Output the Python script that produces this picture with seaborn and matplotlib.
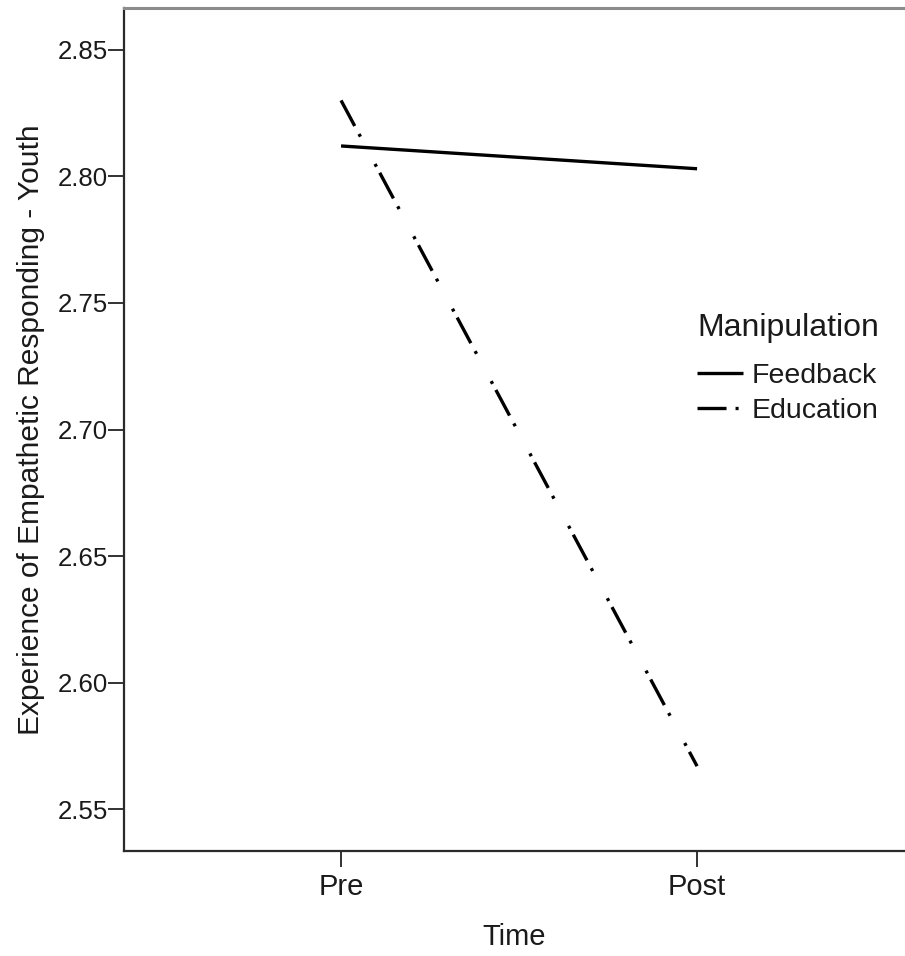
import matplotlib
matplotlib.use("Agg")
import matplotlib.pyplot as plt
import seaborn as sns
import pandas as pd
from matplotlib.ticker import FormatStrFormatter

# Estimated marginal means by time point and manipulation group
time_points = ["Pre", "Post"]
feedback_means = [2.812, 2.803]
education_means = [2.830, 2.567]
groups = ["Feedback", "Education"]
y_ticks = [2.55, 2.60, 2.65, 2.70, 2.75, 2.80, 2.85]

df = pd.DataFrame({
    "Time": time_points * 2,
    "Mean": feedback_means + education_means,
    "Manipulation": [groups[0]] * 2 + [groups[1]] * 2,
})

sns.set_theme(style="white")
plt.rcParams["font.family"] = ["Liberation Sans", "DejaVu Sans"]
plt.rcParams["lines.scale_dashes"] = False

fig = plt.figure(figsize=(9.05, 9.56), dpi=100)
ax = fig.add_axes([124 / 905, 105 / 956, 781 / 905, 843 / 956])

# long dash, dot, long gap, dot (in points)
dash_dot = (20.9, 6.5, 2.2, 22.3, 2.2, 5.0)
sns.lineplot(
    data=df, x="Time", y="Mean", hue="Manipulation", style="Manipulation",
    hue_order=groups, style_order=groups,
    palette={"Feedback": "black", "Education": "black"},
    dashes={"Feedback": "", "Education": dash_dot},
    linewidth=2.4, sort=False, ax=ax, legend=True,
)
for ln in ax.get_lines():
    ln.set_solid_capstyle("butt")
    ln.set_dash_capstyle("butt")

ax.set_xlim(-0.6096, 1.584)
ax.set_ylim(2.5335, 2.8665)
ax.set_yticks(y_ticks)
ax.yaxis.set_major_formatter(FormatStrFormatter("%.2f"))

text_color = "#1a1a1a"
ax.tick_params(axis="both", which="major", direction="out", length=11.5,
               width=1.3, color="#222222", labelcolor=text_color,
               left=True, bottom=True)
ax.tick_params(axis="y", labelsize=18.6, pad=0)
ax.tick_params(axis="x", labelsize=21, pad=4)

for side in ["left", "bottom"]:
    ax.spines[side].set_color("#2a2a2a")
    ax.spines[side].set_linewidth(1.6)
ax.spines["top"].set_color("#8c8c8c")
ax.spines["top"].set_linewidth(2.2)
ax.spines["right"].set_visible(False)

ax.set_xlabel("Time", fontsize=21, color=text_color, labelpad=16)
ax.set_ylabel("Experience of Empathetic Responding - Youth", fontsize=21.5,
              color=text_color, labelpad=9)

handles, labels = ax.get_legend_handles_labels()
leg = ax.legend(handles, labels, title="Manipulation", frameon=False,
                loc="upper left", bbox_to_anchor=(0.7337, 0.638),
                fontsize=20.5, title_fontsize=23, handlelength=1.6,
                handletextpad=0.32, labelspacing=0.33, borderaxespad=0,
                borderpad=0)
leg._legend_box.align = "left"
leg._legend_box.sep = 14
for t in leg.get_texts():
    t.set_color(text_color)
leg.get_title().set_color(text_color)

fig.savefig("out.png", dpi=100, facecolor="white")
